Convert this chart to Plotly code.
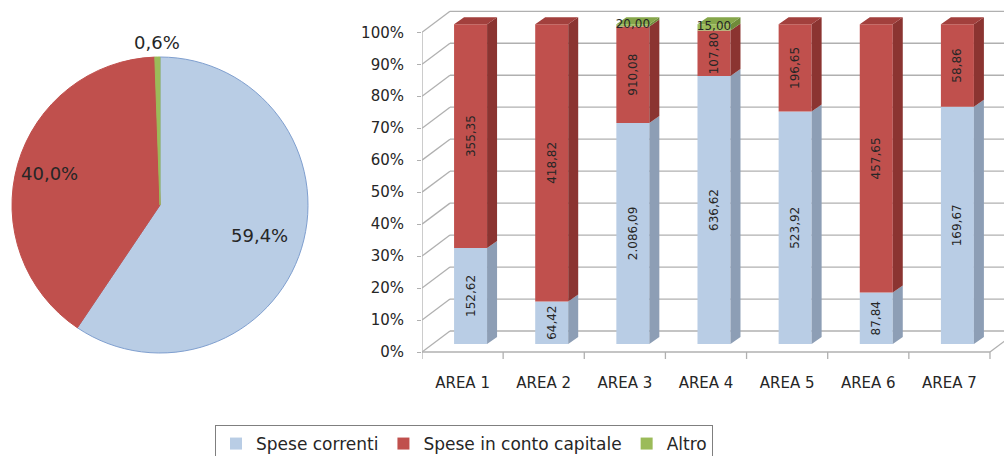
import math
import plotly.graph_objects as go

# ---- data -----------------------------------------------------------------
areas = ["AREA 1", "AREA 2", "AREA 3", "AREA 4", "AREA 5", "AREA 6", "AREA 7"]
spese_correnti = [152.62, 64.42, 2086.09, 636.62, 523.92, 87.84, 169.67]
spese_capitale = [355.35, 418.82, 910.08, 107.80, 196.65, 457.65, 58.86]
altro = [0.0, 0.0, 20.00, 15.00, 0.0, 0.0, 0.0]

series_names = ["Spese correnti", "Spese in conto capitale", "Altro"]
series_values = [spese_correnti, spese_capitale, altro]

y_ticks = [0, 10, 20, 30, 40, 50, 60, 70, 80, 90, 100]
y_tick_labels = [f"{v}%" for v in y_ticks]

# ---- styling --------------------------------------------------------------
FRONT = ["#b9cde5", "#c0504d", "#9bbb59"]
SIDE = ["#8d9eb5", "#8b3431", "#6f8b3a"]
TOP = ["#a6bad3", "#a2403d", "#85a64a"]
GRID = "#b0b0b0"
TEXT = "#262626"
FONT = "DejaVu Sans"

W, H = 1004, 456
X0_PX, SLOT_PX = 422, 81.14      # left edge of the front plane, width per category
Y0_PX, UNIT_PX = 352, 3.197      # 0% baseline on the front plane, pixels per percent
X_RANGE = [-0.5, -0.5 + (W - X0_PX) / SLOT_PX]
Y_RANGE = [-3, 108]
x_dom = [X0_PX / W, 1.0]
y_dom = [(H - (Y0_PX - Y_RANGE[0] * UNIT_PX)) / H, (H - (Y0_PX - Y_RANGE[1] * UNIT_PX)) / H]

# depth offsets (data units) for the pseudo-3D look
BAR_W = 33 / SLOT_PX
BAR_DX, BAR_DY = 8 / SLOT_PX, 8 / UNIT_PX
SIDE_DX, SIDE_DY = 10 / SLOT_PX, 7 / UNIT_PX
WALL_DX, WALL_DY = 28 / SLOT_PX, 21 / UNIT_PX

n = len(areas)
totals = [sum(s[i] for s in series_values) for i in range(n)]
shares = [[s[i] / totals[i] * 100 for i in range(n)] for s in series_values]

fig = go.Figure()

# ---- stacked 100% bars (front faces) ---------------------------------------
xpos = [i + BAR_DX for i in range(n)]
cum = [0.0] * n
bases = []
for k, name in enumerate(series_names):
    base = [BAR_DY + c for c in cum]
    bases.append(base)
    show_text = k < 2
    fig.add_trace(go.Bar(
        x=xpos, y=shares[k], base=base, width=BAR_W, name=name,
        marker=dict(color=FRONT[k], line=dict(width=0)),
        customdata=series_values[k],
        texttemplate="%{customdata:,.2f}" if show_text else None,
        textposition="inside" if show_text else "none",
        insidetextanchor="middle", textangle=-90, constraintext="none",
        textfont=dict(family=FONT, size=12, color=TEXT),
        hovertemplate=name + ": %{customdata:,.2f}<extra></extra>",
        xaxis="x", yaxis="y",
    ))
    cum = [c + s for c, s in zip(cum, shares[k])]

# ---- side and top faces ----------------------------------------------------
for k in range(len(series_names)):
    sx, sy, tx, ty = [], [], [], []
    for i in range(n):
        if shares[k][i] <= 0:
            continue
        y0 = bases[k][i]
        y1 = y0 + shares[k][i]
        xr = xpos[i] + BAR_W / 2
        xl = xpos[i] - BAR_W / 2
        sx += [xr, xr + SIDE_DX, xr + SIDE_DX, xr, xr, None]
        sy += [y0, y0 + SIDE_DY, y1 + SIDE_DY, y1, y0, None]
        is_top = all(shares[j][i] <= 0 for j in range(k + 1, len(series_names)))
        if is_top:
            tx += [xl, xl + SIDE_DX, xr + SIDE_DX, xr, xl, None]
            ty += [y1, y1 + SIDE_DY, y1 + SIDE_DY, y1, y1, None]
    for px, py, col in ((sx, sy, SIDE[k]), (tx, ty, TOP[k])):
        if px:
            fig.add_trace(go.Scatter(
                x=px, y=py, mode="lines", fill="toself", fillcolor=col,
                line=dict(width=0, color=col), hoverinfo="skip",
                showlegend=False, xaxis="x", yaxis="y",
            ))

# small "Altro" values written horizontally across the top of their bars
altro_idx = [i for i in range(n) if altro[i] > 0]
fig.add_trace(go.Scatter(
    x=[xpos[i] for i in altro_idx],
    y=[bases[2][i] + shares[2][i] / 2 for i in altro_idx],
    customdata=[altro[i] for i in altro_idx],
    mode="text", texttemplate="%{customdata:,.2f}",
    textfont=dict(family=FONT, size=12, color=TEXT),
    hoverinfo="skip", showlegend=False, cliponaxis=False,
    xaxis="x", yaxis="y",
))

# ---- walls, floor and ticks -----------------------------------------------
line = dict(color=GRID, width=1.3)
shapes = []
x_end = X_RANGE[1]
for v in y_ticks:
    shapes.append(dict(type="line", xref="x", yref="y", x0=-0.5, y0=v,
                       x1=-0.5 + WALL_DX, y1=v + WALL_DY, line=line, layer="below"))
    shapes.append(dict(type="line", xref="x", yref="y", x0=-0.5 + WALL_DX, y0=v + WALL_DY,
                       x1=x_end, y1=v + WALL_DY, line=line, layer="below"))
shapes.append(dict(type="line", xref="x", yref="y", x0=-0.5, y0=0, x1=-0.5, y1=100,
                   line=line, layer="below"))
shapes.append(dict(type="line", xref="x", yref="y", x0=-0.5, y0=0, x1=n - 0.5, y1=0,
                   line=line, layer="below"))
shapes.append(dict(type="line", xref="x", yref="y", x0=n - 0.5, y0=0,
                   x1=n - 0.5 + WALL_DX, y1=WALL_DY, line=line, layer="below"))
for b in range(n + 1):
    shapes.append(dict(type="line", xref="x", yref="y", x0=b - 0.5, y0=0,
                       x1=b - 0.5, y1=-7 / UNIT_PX, line=line, layer="below"))

# ---- pie of the overall totals --------------------------------------------
PIE_CX, PIE_CY, PIE_R = 160, 205, 148
pie_values = [sum(s) for s in series_values]
pie_total = sum(pie_values)
fig.add_trace(go.Pie(
    labels=series_names, values=pie_values, sort=False, direction="clockwise",
    rotation=0, showlegend=False, textinfo="none",
    marker=dict(colors=FRONT, line=dict(color=["#7f9fcf", "#c0504d", "#9bbb59"], width=1)),
    domain=dict(x=[(PIE_CX - PIE_R) / W, (PIE_CX + PIE_R) / W],
                y=[(H - PIE_CY - PIE_R) / H, (H - PIE_CY + PIE_R) / H]),
    hoverinfo="label+percent",
))

# percentage labels placed along each slice's middle angle
label_radius = [0.70, 0.78, 1.10]
annotations = []
acc = 0.0
for k, v in enumerate(pie_values):
    frac = v / pie_total
    theta = math.radians((acc + frac / 2) * 360)
    acc += frac
    px = PIE_CX + label_radius[k] * PIE_R * math.sin(theta)
    py = PIE_CY - label_radius[k] * PIE_R * math.cos(theta)
    annotations.append(dict(
        x=px / W, y=(H - py) / H, xref="paper", yref="paper",
        text=f"{frac * 100:.1f}%".replace(".", ","), showarrow=False,
        font=dict(family=FONT, size=18, color=TEXT),
        xanchor="center", yanchor="middle",
    ))

fig.update_layout(
    width=W, height=H, margin=dict(l=0, r=0, t=0, b=0, autoexpand=False),
    paper_bgcolor="white", plot_bgcolor="rgba(0,0,0,0)",
    separators=",.", barmode="overlay", shapes=shapes, annotations=annotations,
    font=dict(family=FONT, color=TEXT),
    xaxis=dict(domain=x_dom, range=X_RANGE, tickvals=list(range(n)), ticktext=areas,
               showgrid=False, zeroline=False, showline=False, ticks="",
               ticklabelstandoff=10, tickfont=dict(family=FONT, size=15, color=TEXT),
               fixedrange=True),
    yaxis=dict(domain=y_dom, range=Y_RANGE, tickvals=y_ticks, ticktext=y_tick_labels,
               showgrid=False, zeroline=False, showline=False, ticks="outside",
               ticklen=4, tickcolor=GRID, ticklabelstandoff=10,
               tickfont=dict(family=FONT, size=15, color=TEXT), fixedrange=True),
    legend=dict(orientation="h", x=464 / W, xanchor="center", y=(H - 425) / H,
                yanchor="top", bordercolor="#7f7f7f", borderwidth=1,
                font=dict(family=FONT, size=17, color=TEXT), itemwidth=30,
                traceorder="normal"),
)

fig.write_html("out.html")
